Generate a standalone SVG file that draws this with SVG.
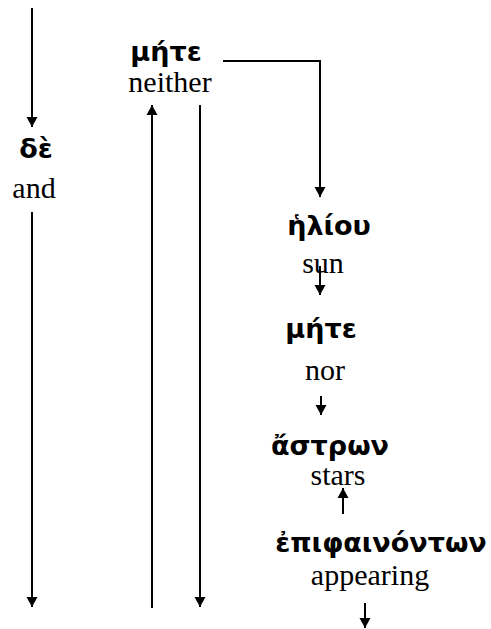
<svg xmlns="http://www.w3.org/2000/svg" width="491" height="629" viewBox="0 0 491 629">
<defs>
<marker id="ah" markerUnits="userSpaceOnUse" markerWidth="12" markerHeight="12" viewBox="0 0 12 12" refX="10" refY="6" orient="auto">
<path d="M0,0.5 L10,6 L0,11.5 Z" fill="#000"/>
</marker>
</defs>
<style>
.gk{font-family:"DejaVu Sans","Noto Sans",sans-serif;font-weight:bold;font-size:27px;fill:#000;text-anchor:middle}
.en{font-family:"Liberation Serif","Times New Roman",serif;font-size:30px;fill:#000;text-anchor:middle}
.c{stroke:#000;stroke-width:2;fill:none;marker-end:url(#ah)}
</style>
<rect width="491" height="629" fill="#fff"/>
<g id="connectors">
<line class="c" x1="32" y1="8" x2="32" y2="127"/>
<line class="c" x1="32" y1="212" x2="32" y2="607"/>
<line class="c" x1="152" y1="608" x2="152" y2="105"/>
<line class="c" x1="200" y1="105" x2="200" y2="607"/>
<polyline class="c" points="223,61 320,61 320,197"/>
<line class="c" x1="320" y1="266" x2="320" y2="295"/>
<line class="c" x1="321" y1="396" x2="321" y2="415"/>
<line class="c" x1="343" y1="514" x2="343" y2="488"/>
<line class="c" x1="365" y1="603" x2="365" y2="628"/>
</g>
<g id="n-de"><text class="gk" x="36" y="158">δὲ</text><text class="en" x="34" y="198">and</text></g>
<g id="n-mete1"><text class="gk" x="166" y="61">μήτε</text><text class="en" x="170" y="92">neither</text></g>
<g id="n-heliou"><text class="gk" x="329" y="235">ἡλίου</text><text class="en" x="323" y="273">sun</text></g>
<g id="n-mete2"><text class="gk" x="321" y="338">μήτε</text><text class="en" x="325" y="380">nor</text></g>
<g id="n-astron"><text class="gk" x="330" y="455">ἄστρων</text><text class="en" x="338" y="485">stars</text></g>
<g id="n-epiphainonton"><text class="gk" x="381" y="552">ἐπιφαινόντων</text><text class="en" x="370" y="585">appearing</text></g>
</svg>
